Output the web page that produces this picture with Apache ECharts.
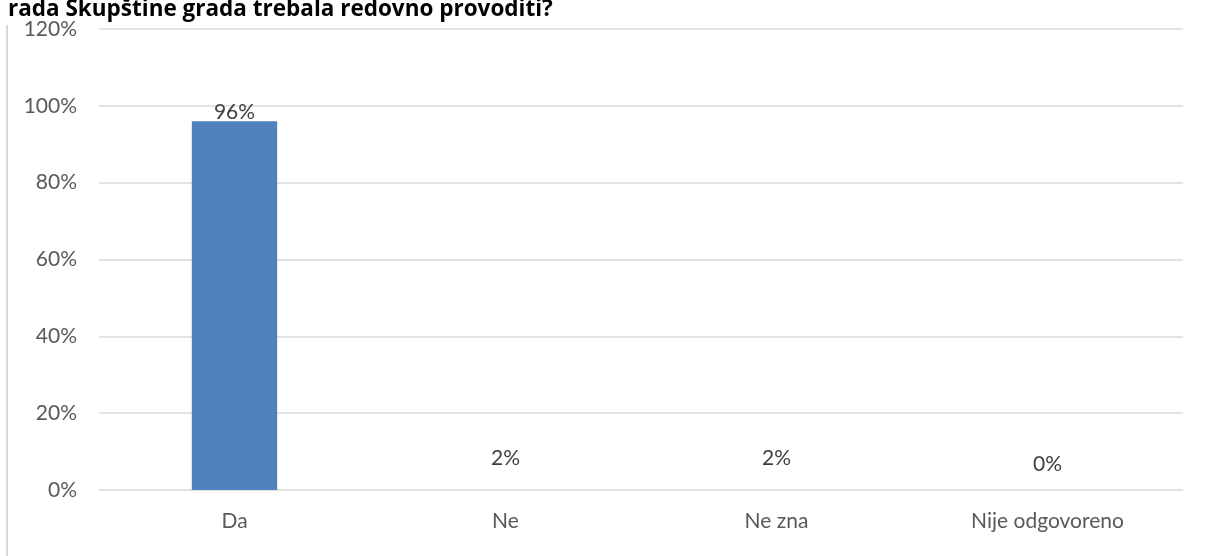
<!DOCTYPE html>
<html>
<head>
<meta charset="utf-8">
<script src="https://cdn.jsdelivr.net/npm/echarts@6/dist/echarts.min.js"></script>
<style>
html,body{margin:0;padding:0;background:#fff;}
#chart{width:1207px;height:556px;}
</style>
</head>
<body>
<div id="chart"></div>
<script>
const titleText = 'rada Skupštine grada trebala redovno provoditi?';
const categories = ['Da', 'Ne', 'Ne zna', 'Nije odgovoreno'];
// bar heights as they appear in the picture (the 2% bars are not visible there)
const barValues = [96, 0, 0, 0];
// data label texts
const labelValues = [96, 2, 2, 0];
const yTicks = [0, 20, 40, 60, 80, 100, 120];

const chart = echarts.init(document.getElementById('chart'));
const FONT = 'Lato';
const labelDistance = (i) => (i === 0 ? -2 : (i === 3 ? 15 : 21));
chart.setOption({
  animation: false,
  backgroundColor: '#ffffff',
  title: {
    text: titleText,
    left: 3,
    top: -7,
    textStyle: { fontFamily: 'Open Sans', fontWeight: 'bold', fontSize: 22.5, color: '#000000' }
  },
  graphic: [{
    type: 'line',
    shape: { x1: 7, y1: 25, x2: 7, y2: 556 },
    style: { stroke: '#d9d9d9', lineWidth: 2 }
  }],
  grid: { left: 99, right: 24, top: 29, bottom: 66, containLabel: false },
  xAxis: {
    type: 'category',
    data: categories,
    axisLine: { show: false },
    axisTick: { show: false },
    axisLabel: { fontFamily: FONT, fontSize: 21, color: '#595959', margin: 21 }
  },
  yAxis: {
    type: 'value',
    min: yTicks[0],
    max: yTicks[yTicks.length - 1],
    interval: 20,
    axisLine: { show: false },
    axisTick: { show: false },
    splitLine: { lineStyle: { color: '#d9d9d9', width: 1.5 } },
    axisLabel: { fontFamily: FONT, fontSize: 21, color: '#595959', margin: 22, formatter: '{value}%' }
  },
  series: [{
    type: 'bar',
    barWidth: '31.5%',
    itemStyle: { color: '#4f81bd' },
    data: barValues.map((v, i) => ({
      value: v,
      label: { distance: labelDistance(i), formatter: labelValues[i] + '%' }
    })),
    label: {
      show: true,
      position: 'top',
      fontFamily: FONT,
      fontSize: 21,
      color: '#404040'
    }
  }]
});
</script>
</body>
</html>
